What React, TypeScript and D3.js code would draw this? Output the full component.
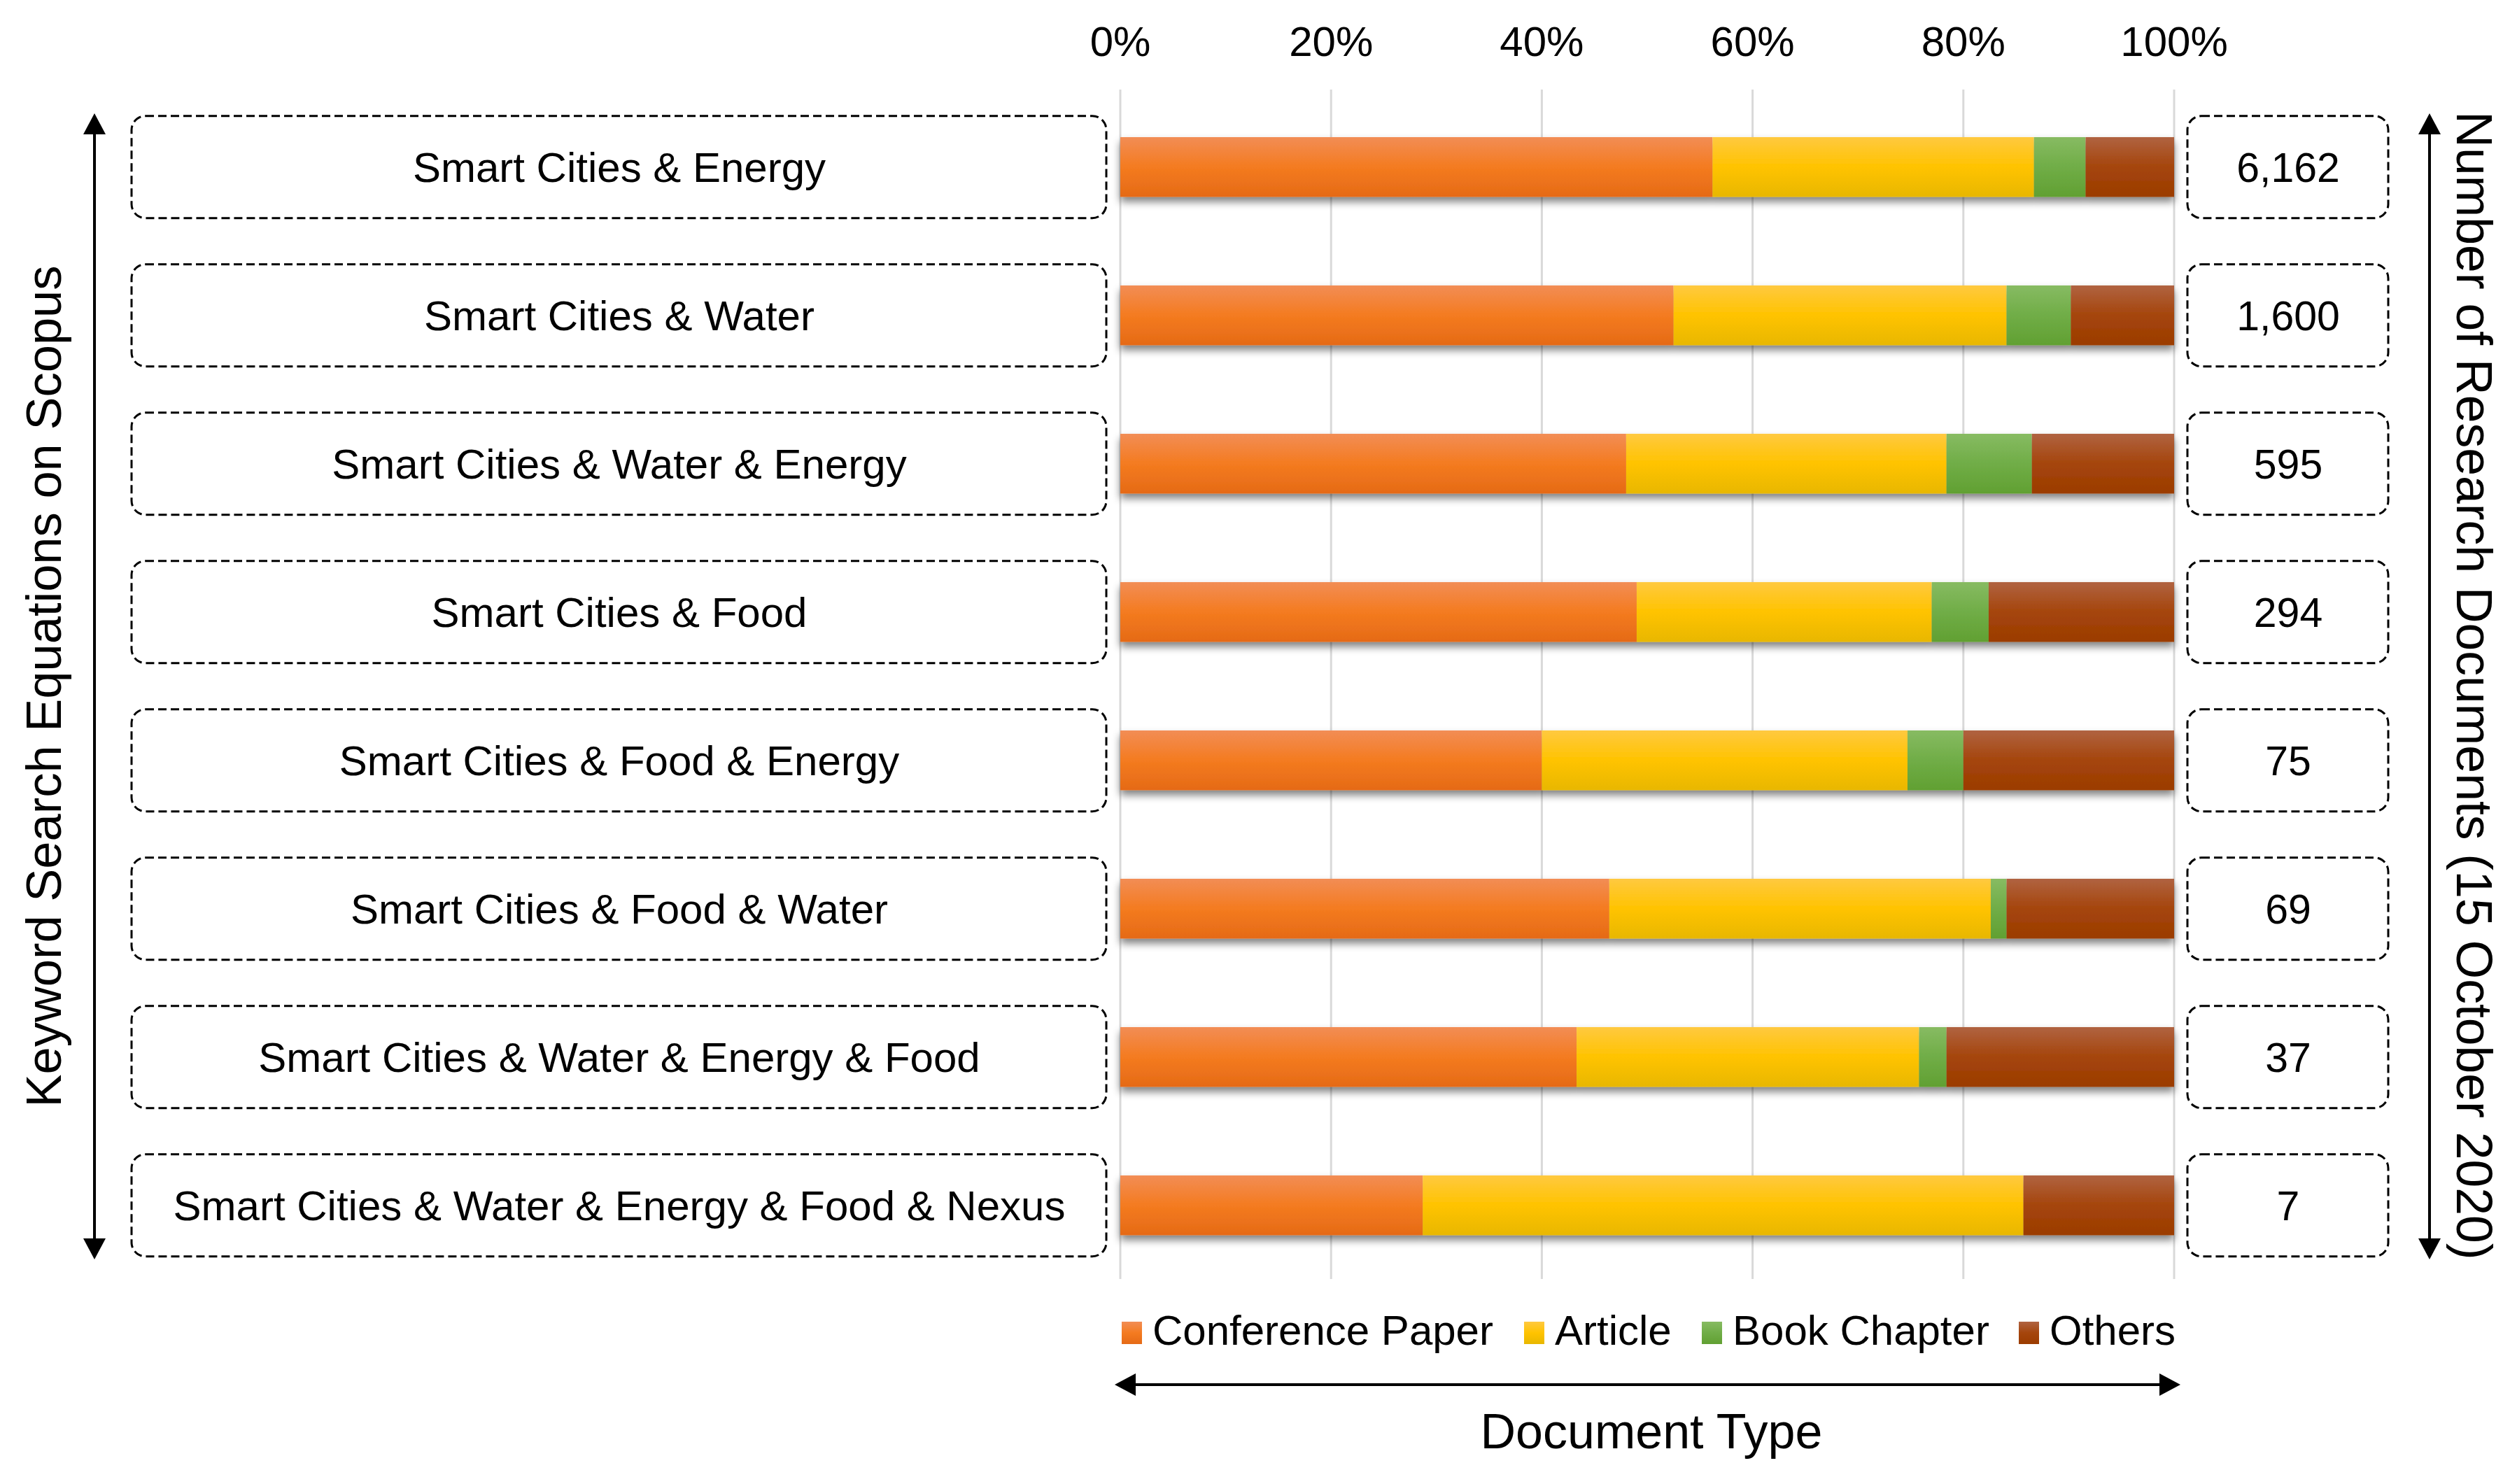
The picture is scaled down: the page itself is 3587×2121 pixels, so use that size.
import React from "react";
import * as d3 from "d3";

const categories = [
  "Smart Cities & Energy",
  "Smart Cities & Water",
  "Smart Cities & Water & Energy",
  "Smart Cities & Food",
  "Smart Cities & Food & Energy",
  "Smart Cities & Food & Water",
  "Smart Cities & Water & Energy & Food",
  "Smart Cities & Water & Energy & Food & Nexus",
];
const documentCounts = ["6,162", "1,600", "595", "294", "75", "69", "37", "7"];
const seriesNames = ["Conference Paper", "Article", "Book Chapter", "Others"];
const conferencePaper = [56.2, 52.5, 48.0, 49.0, 40.0, 46.4, 43.3, 28.7];
const article = [30.5, 31.6, 30.4, 28.0, 34.7, 36.2, 32.5, 57.0];
const bookChapter = [4.9, 6.1, 8.1, 5.4, 5.3, 1.5, 2.6, 0.0];
const others = [8.4, 9.8, 13.5, 17.6, 20.0, 15.9, 21.6, 14.3];
const xTicks = [0, 20, 40, 60, 80, 100];
const leftTitle = "Keyword Search Equations on Scopus";
const rightTitle = "Number of Research Documents (15 October 2020)";
const bottomTitle = "Document Type";

const W = 3587;
const H = 2121;
const FONT = "'Liberation Sans', Arial, sans-serif";

const gradients = [
  ["#F28D55", "#F47B20", "#E56A16"],
  ["#FFC940", "#FFC300", "#E8B700"],
  ["#87BB62", "#70AD47", "#61A032"],
  ["#B06341", "#A5450C", "#9B3C00"],
];

export default function App() {
  const x = d3.scaleLinear().domain([0, 100]).range([1601, 3107]);
  const y = d3
    .scaleBand<string>()
    .domain(categories)
    .range([132.7, 1828.7])
    .paddingInner(0.597)
    .paddingOuter(0.2985);

  const table = categories.map((c, i) => ({
    cat: c,
    cp: conferencePaper[i],
    ar: article[i],
    bc: bookChapter[i],
    ot: others[i],
  }));
  const keys = ["cp", "ar", "bc", "ot"];
  const stacked = d3.stack<any>().keys(keys)(table);

  const boxH = 146;
  const legendX = [1603, 2178, 2432, 2885];

  const arrowHead = (tx: number, ty: number, dir: string) => {
    const L = 30, hw = 16;
    let pts: number[][] = [];
    if (dir === "up") pts = [[tx, ty], [tx - hw, ty + L], [tx + hw, ty + L]];
    if (dir === "down") pts = [[tx, ty], [tx - hw, ty - L], [tx + hw, ty - L]];
    if (dir === "left") pts = [[tx, ty], [tx + L, ty - hw], [tx + L, ty + hw]];
    if (dir === "right") pts = [[tx, ty], [tx - L, ty - hw], [tx - L, ty + hw]];
    return <polygon points={pts.map((p) => p.join(",")).join(" ")} fill="#000" />;
  };

  return (
    <svg
      width={W}
      height={H}
      viewBox={`0 0 ${W} ${H}`}
      style={{ position: "absolute", left: 0, top: 0, display: "block", background: "#fff" }}
      fontFamily={FONT}
    >
      <defs>
        {gradients.map((g, i) => (
          <linearGradient key={i} id={`grad${i}`} x1="0" y1="0" x2="0" y2="1">
            <stop offset="0" stopColor={g[0]} />
            <stop offset="0.5" stopColor={g[1]} />
            <stop offset="1" stopColor={g[2]} />
          </linearGradient>
        ))}
        <filter id="shadow" x="-5%" y="-60%" width="110%" height="220%">
          <feGaussianBlur in="SourceAlpha" stdDeviation="6" result="blur" />
          <feOffset in="blur" dx="0" dy="7" result="off" />
          <feComponentTransfer in="off" result="shade">
            <feFuncA type="linear" slope="0.5" />
          </feComponentTransfer>
          <feMerge>
            <feMergeNode in="shade" />
            <feMergeNode in="SourceGraphic" />
          </feMerge>
        </filter>
      </defs>
      <rect x={0} y={0} width={W} height={H} fill="#fff" />

      {/* gridlines */}
      {xTicks.map((t) => (
        <line key={t} x1={x(t)} x2={x(t)} y1={128} y2={1828} stroke="#D9D9D9" strokeWidth={3} />
      ))}
      {/* tick labels */}
      {xTicks.map((t) => (
        <text key={t} x={x(t)} y={80} fontSize={60} textAnchor="middle" fill="#000">
          {t}%
        </text>
      ))}

      {/* bars */}
      {categories.map((c, i) => (
        <g key={c} filter="url(#shadow)">
          {stacked.map((s, k) => {
            const d = s[i];
            const w = x(d[1]) - x(d[0]);
            if (w <= 0) return null;
            return (
              <rect
                key={k}
                x={x(d[0])}
                y={y(c)}
                width={w}
                height={y.bandwidth()}
                fill={`url(#grad${k})`}
              />
            );
          })}
        </g>
      ))}

      {/* left label boxes */}
      {categories.map((c) => {
        const cy = (y(c) as number) + y.bandwidth() / 2;
        return (
          <g key={c}>
            <rect
              x={188}
              y={cy - boxH / 2}
              width={1393}
              height={boxH}
              rx={20}
              ry={20}
              fill="none"
              stroke="#000"
              strokeWidth={3}
              strokeDasharray="12 6"
            />
            <text x={885} y={cy + 21} fontSize={60} textAnchor="middle" fill="#000">
              {c}
            </text>
          </g>
        );
      })}

      {/* right count boxes */}
      {categories.map((c, i) => {
        const cy = (y(c) as number) + y.bandwidth() / 2;
        return (
          <g key={c}>
            <rect
              x={3126}
              y={cy - boxH / 2}
              width={287}
              height={boxH}
              rx={20}
              ry={20}
              fill="none"
              stroke="#000"
              strokeWidth={3}
              strokeDasharray="12 6"
            />
            <text x={3270} y={cy + 21} fontSize={59} textAnchor="middle" fill="#000">
              {documentCounts[i]}
            </text>
          </g>
        );
      })}

      {/* left arrow + title */}
      <line x1={135} x2={135} y1={185} y2={1775} stroke="#000" strokeWidth={4} />
      {arrowHead(135, 162, "up")}
      {arrowHead(135, 1800, "down")}
      <text
        transform="translate(87,981) rotate(-90)"
        fontSize={70.5}
        textAnchor="middle"
        fill="#000"
      >
        {leftTitle}
      </text>

      {/* right arrow + title */}
      <line x1={3472} x2={3472} y1={185} y2={1775} stroke="#000" strokeWidth={4} />
      {arrowHead(3472, 162, "up")}
      {arrowHead(3472, 1800, "down")}
      <text
        transform="translate(3511,980) rotate(90)"
        fontSize={71.5}
        textAnchor="middle"
        fill="#000"
      >
        {rightTitle}
      </text>

      {/* legend */}
      {seriesNames.map((n, k) => (
        <g key={n}>
          <rect x={legendX[k]} y={1889} width={29} height={32} fill={`url(#grad${k})`} />
          <text x={legendX[k] + 44} y={1922} fontSize={60} fill="#000">
            {n}
          </text>
        </g>
      ))}

      {/* bottom arrow + title */}
      <line x1={1615} x2={3094} y1={1979} y2={1979} stroke="#000" strokeWidth={4} />
      {arrowHead(1593, 1979, "left")}
      {arrowHead(3116, 1979, "right")}
      <text x={2360} y={2070} fontSize={70} textAnchor="middle" fill="#000">
        {bottomTitle}
      </text>
    </svg>
  );
}
